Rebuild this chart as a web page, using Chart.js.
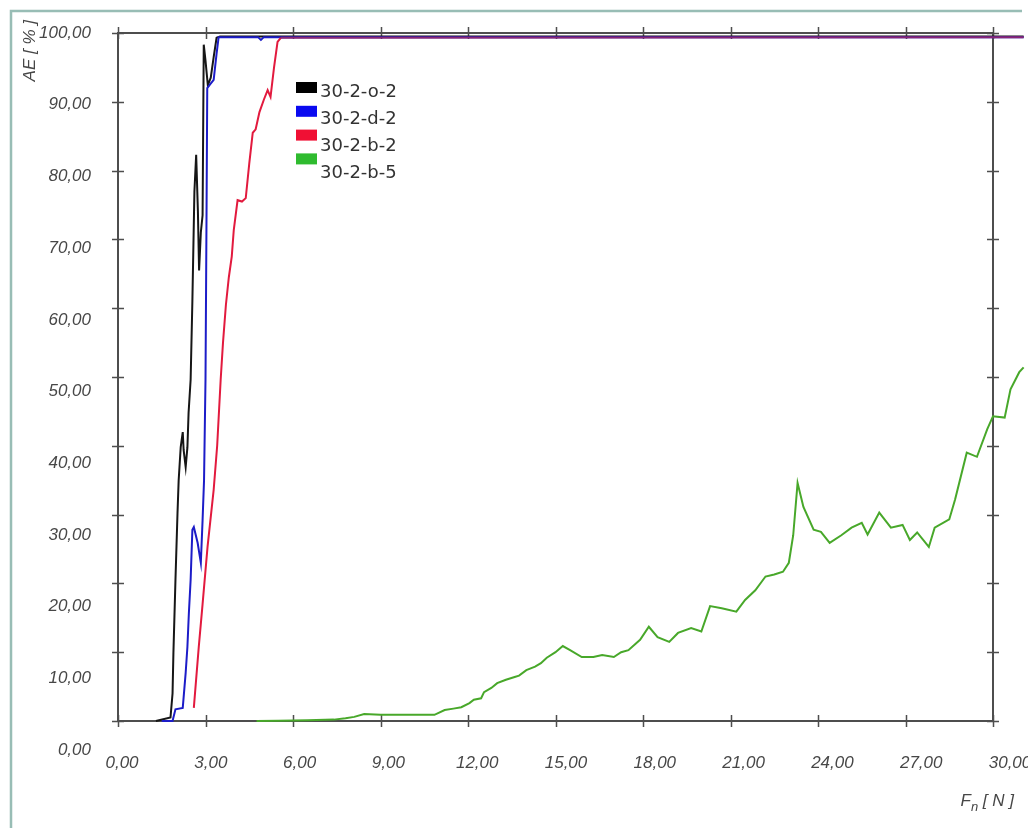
<!DOCTYPE html>
<html>
<head>
<meta charset="utf-8">
<title>AE vs Fn</title>
<script src="https://cdn.jsdelivr.net/npm/chart.js@4/dist/chart.umd.min.js"></script>
<style>
  html, body { margin: 0; padding: 0; background: #ffffff; }
  canvas { display: block; }
</style>
</head>
<body>
<canvas id="chart" width="1028" height="828"></canvas>
<script>
// Axis tick values
const fTicks = [0, 3, 6, 9, 12, 15, 18, 21, 24, 27, 30];
const aeTicks = [0, 10, 20, 30, 40, 50, 60, 70, 80, 90, 100];

// Series names
const seriesNames = ['30-2-o-2', '30-2-d-2', '30-2-b-2', '30-2-b-5'];

// 30-2-o-2
const o2F  = [1.3, 1.8, 1.87, 1.9, 1.97, 2.04, 2.08, 2.15, 2.22, 2.25, 2.32, 2.38, 2.42, 2.49, 2.55, 2.62, 2.68, 2.74, 2.78, 2.84, 2.9, 2.94, 3.0, 3.08, 3.18, 3.28, 3.38, 3.5, 31.05];
const o2AE = [0, 0.5, 4, 9.9, 20.5, 30.2, 35, 39.8, 42, 39.4, 36.9, 39.8, 44.8, 49.6, 61, 77, 82.3, 74, 65.5, 71, 73.5, 98.3, 96, 92.4, 93.5, 96.5, 99.3, 99.5, 99.5];

// 30-2-d-2
const d2F  = [1.5, 1.87, 1.97, 2.22, 2.32, 2.38, 2.43, 2.49, 2.55, 2.6, 2.73, 2.84, 2.9, 2.95, 3.0, 3.03, 3.06, 3.15, 3.28, 3.38, 3.45, 4.8, 4.9, 5.0, 31.05];
const d2AE = [0, 0, 1.7, 1.9, 7, 10.8, 15.7, 20.5, 27.8, 28.2, 25.9, 23, 29.2, 35, 49.6, 70, 92, 92.5, 93.2, 97, 99.4, 99.4, 99.0, 99.4, 99.4];

// 30-2-b-2
const b2F  = [2.6, 2.77, 2.9, 3.07, 3.28, 3.4, 3.52, 3.6, 3.7, 3.8, 3.9, 3.97, 4.1, 4.25, 4.38, 4.5, 4.62, 4.72, 4.85, 5.0, 5.13, 5.23, 5.35, 5.47, 5.58, 31.05];
const b2AE = [1.9, 10.8, 17, 25.3, 33.6, 40, 49.6, 55, 60.5, 64.5, 67.5, 71.4, 75.7, 75.5, 76, 81, 85.5, 86, 88.5, 90.3, 91.7, 90.7, 95, 98.7, 99.3, 99.4];

// 30-2-b-5
const b5F  = [4.75, 5.5, 6.5, 7.4, 7.8, 8.1, 8.44, 9.0, 9.6, 10.2, 10.85, 11.2, 11.5, 11.77, 12.05, 12.2, 12.45, 12.55, 12.8, 13.0,
              13.3, 13.6, 13.75, 14.0, 14.3, 14.5, 14.7, 15.0, 15.25, 15.5, 15.9, 16.3, 16.6, 17.0, 17.25, 17.5, 17.9, 18.2, 18.5, 18.9,
              19.2, 19.65, 20.0, 20.3, 20.7, 21.2, 21.5, 21.85, 22.2, 22.5, 22.8, 23.0, 23.15, 23.3, 23.5, 23.85, 24.1, 24.4, 24.8, 25.15,
              25.5, 25.7, 26.1, 26.5, 26.9, 27.15, 27.4, 27.8, 28.0, 28.5, 28.7, 29.1, 29.45, 29.8, 30.0, 30.4, 30.6, 30.9, 31.05];
const b5AE = [0, 0.05, 0.1, 0.2, 0.4, 0.6, 1.0, 0.9, 0.9, 0.9, 0.9, 1.6, 1.8, 2.0, 2.6, 3.1, 3.3, 4.2, 4.8, 5.5,
              6.0, 6.4, 6.6, 7.4, 7.9, 8.4, 9.2, 10.0, 10.9, 10.3, 9.3, 9.3, 9.6, 9.3, 10.0, 10.3, 11.8, 13.7, 12.2, 11.5,
              12.8, 13.5, 13.0, 16.7, 16.4, 15.9, 17.6, 19.0, 21.0, 21.3, 21.7, 23.0, 27.0, 34.6, 31.1, 27.8, 27.5, 25.9, 27.0, 28.1,
              28.8, 27.1, 30.3, 28.1, 28.5, 26.3, 27.4, 25.3, 28.1, 29.3, 32.2, 39.0, 38.4, 42.4, 44.3, 44.1, 48.2, 50.7, 51.4];

const lineColors   = ['#161616', '#1c1cc8', '#e21a3e', '#48a82a'];
const legendColors = ['#000000', '#0a0af0', '#f01034', '#2fbb2f'];
const saturatedColor = '#8a2674';   // overlapping red/blue plateau

const pts = (fs, aes) => fs.map((f, i) => ({ x: f, y: aes[i] }));
const fmt = v => v.toFixed(2).replace('.', ',');

const labelFont = { family: '"Liberation Sans", Arial, sans-serif', size: 17, style: 'italic' };
const labelColor = '#474747';

// Outer panel border and the boxed plot frame with crossing tick marks
const framePlugin = {
  id: 'framePlugin',
  beforeDraw(chart) {
    const { ctx, width, height } = chart;
    ctx.save();
    ctx.fillStyle = '#ffffff';
    ctx.fillRect(0, 0, width, height);
    ctx.strokeStyle = '#98bdb5';
    ctx.lineWidth = 2.5;
    ctx.beginPath();
    ctx.moveTo(11, height);
    ctx.lineTo(11, 11);
    ctx.lineTo(1022, 11);
    ctx.stroke();
    ctx.restore();
  },
  beforeDatasetsDraw(chart) {
    const { ctx, chartArea: a, scales } = chart;
    const x = scales.x, y = scales.y;
    ctx.save();
    ctx.strokeStyle = '#4e4e4e';
    ctx.lineWidth = 2;
    ctx.strokeRect(a.left, a.top, a.right - a.left, a.bottom - a.top);
    ctx.lineWidth = 1.5;
    ctx.beginPath();
    x.ticks.forEach(t => {
      const px = Math.round(x.getPixelForValue(t.value)) + 0.5;
      ctx.moveTo(px, a.top - 6); ctx.lineTo(px, a.top + 6);
      ctx.moveTo(px, a.bottom - 6); ctx.lineTo(px, a.bottom + 6);
    });
    y.ticks.forEach(t => {
      const py = Math.round(y.getPixelForValue(t.value)) + 0.5;
      ctx.moveTo(a.left - 6, py); ctx.lineTo(a.left + 6, py);
      ctx.moveTo(a.right - 6, py); ctx.lineTo(a.right + 6, py);
    });
    ctx.stroke();
    ctx.restore();
  }
};

// Tick-label scales are spread a little wider than the plot frame
const labelPlacement = {
  id: 'labelPlacement',
  afterLayout(chart) {
    const a = chart.chartArea;
    const xl = chart.scales.xLab;
    xl.left = a.left + 4;
    xl.right = a.left + 4 + 30 * 29.6;
    xl.top = a.bottom;
    xl.bottom = chart.height;
    xl.width = xl.right - xl.left;
    xl.height = xl.bottom - xl.top;
    xl.configure();

    const yl = chart.scales.yLab;
    yl.left = 10;
    yl.right = a.left;
    yl.top = a.top - 13;
    yl.bottom = a.bottom + 29;
    yl.width = yl.right - yl.left;
    yl.height = yl.bottom - yl.top;
    yl.min = 0;
    yl.max = 100 * (yl.bottom - yl.top) / (yl.bottom - a.top);
    yl.configure();
  }
};

// Horizontal axis title with a subscripted n: "Fn [ N ]"
const forceTitle = {
  id: 'forceTitle',
  afterDraw(chart) {
    const { ctx } = chart;
    const xl = chart.scales.xLab;
    const big = 'italic 17px "Liberation Sans", Arial, sans-serif';
    const small = 'italic 13px "Liberation Sans", Arial, sans-serif';
    const parts = [['F', big, 0], ['n', small, 5], [' [ N ]', big, 0]];
    ctx.save();
    ctx.fillStyle = labelColor;
    ctx.textBaseline = 'alphabetic';
    let total = 0;
    parts.forEach(([t, f]) => { ctx.font = f; total += ctx.measureText(t).width; });
    let x = xl.right + 4 - total;
    const base = xl.bottom - 22;
    parts.forEach(([t, f, dy]) => {
      ctx.font = f;
      ctx.fillText(t, x, base + dy);
      x += ctx.measureText(t).width;
    });
    ctx.restore();
  }
};

// Legend with colour swatches inside the plot
const swatchLegend = {
  id: 'swatchLegend',
  afterDraw(chart) {
    const { ctx } = chart;
    ctx.save();
    ctx.font = '18px "DejaVu Sans", sans-serif';
    ctx.textBaseline = 'middle';
    ctx.textAlign = 'left';
    chart.data.datasets.forEach((ds, i) => {
      ctx.fillStyle = legendColors[i];
      ctx.fillRect(296, 82 + i * 23.8, 21, 11);
      ctx.fillStyle = '#333333';
      ctx.fillText(ds.label, 320, 92 + i * 27);
    });
    ctx.restore();
  }
};

const zeroX = s => { s.height = 0; s.paddingLeft = 0; s.paddingRight = 0; };
const zeroY = s => { s.width = 0; s.paddingTop = 0; s.paddingBottom = 0; };

new Chart(document.getElementById('chart'), {
  type: 'line',
  data: {
    datasets: [
      { label: seriesNames[0], data: pts(o2F, o2AE), borderColor: lineColors[0], order: 3 },
      { label: seriesNames[1], data: pts(d2F, d2AE), borderColor: lineColors[1], order: 2 },
      { label: seriesNames[2], data: pts(b2F, b2AE), borderColor: lineColors[2], order: 1,
        segment: { borderColor: c => (c.p0.parsed.y > 99 && c.p1.parsed.y > 99) ? saturatedColor : undefined } },
      { label: seriesNames[3], data: pts(b5F, b5AE), borderColor: lineColors[3], order: 0 }
    ].map(d => Object.assign(d, { borderWidth: 2, pointRadius: 0, tension: 0, clip: false, fill: false }))
  },
  options: {
    responsive: false,
    devicePixelRatio: 1,
    animation: false,
    events: [],
    layout: { autoPadding: false, padding: { left: 118, top: 33, right: 35, bottom: 107 } },
    plugins: { legend: { display: false }, tooltip: { enabled: false } },
    scales: {
      x: {
        type: 'linear', display: false,
        afterDataLimits: s => { s.min = fTicks[0]; s.max = fTicks[fTicks.length - 1]; },
        afterBuildTicks: s => { s.ticks = fTicks.map(v => ({ value: v })); }
      },
      y: {
        type: 'linear', display: false, min: 0, max: 100,
        afterBuildTicks: s => { s.ticks = aeTicks.map(v => ({ value: v })); }
      },
      xLab: {
        type: 'linear', position: 'bottom', min: 0, max: 30,
        grid: { display: false }, border: { display: false },
        afterBuildTicks: s => { s.ticks = fTicks.map(v => ({ value: v })); },
        afterFit: zeroX,
        ticks: { autoSkip: false, maxRotation: 0, padding: 24, font: labelFont, color: labelColor, callback: v => fmt(v) },
        title: { display: false }
      },
      yLab: {
        type: 'linear', position: 'left', min: 0, max: 100,
        grid: { display: false }, border: { display: false },
        afterBuildTicks: s => { s.ticks = aeTicks.map(v => ({ value: v })); },
        afterFit: zeroY,
        ticks: { autoSkip: false, padding: 19, font: labelFont, color: labelColor, callback: v => fmt(v) },
        title: { display: true, text: 'AE [ % ]', align: 'end', color: labelColor,
                 font: { family: '"Liberation Sans", sans-serif', size: 17, style: 'italic' },
                 padding: { top: 10, bottom: 0 } }
      }
    }
  },
  plugins: [framePlugin, labelPlacement, forceTitle, swatchLegend]
});
</script>
</body>
</html>
